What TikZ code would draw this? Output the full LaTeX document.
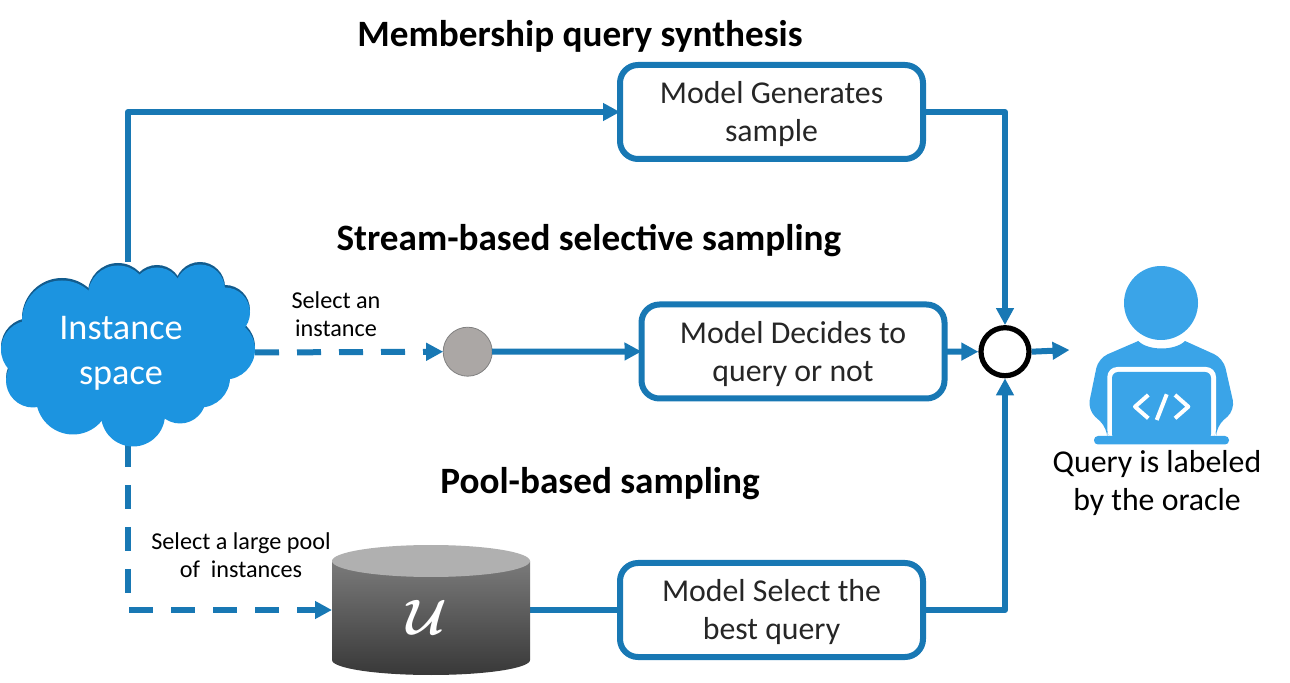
\documentclass[tikz,border=0pt]{standalone}
\usepackage{amsmath}
\usepackage{fontspec}
\setmainfont{Carlito}
\usepackage{tikz}
\usetikzlibrary{arrows.meta}
\definecolor{linkblue}{HTML}{1878B4}
\definecolor{cloudblue}{HTML}{1C94E0}
\definecolor{clouddark}{HTML}{125C8E}
\definecolor{userblue}{HTML}{3AA4E8}
\definecolor{streamgray}{HTML}{ABA7A5}
\tikzset{
  modelbox/.style={draw=linkblue,line width=3pt,rounded corners=9pt,fill=white,
    minimum width=151.5pt,minimum height=47pt,align=center,outer sep=0pt,
    font=\fontsize{15.9}{19}\selectfont,text=black!85},
  heading/.style={font=\fontsize{18.6}{20}\selectfont\bfseries,text=black},
  smalltext/.style={font=\fontsize{12.1}{14}\selectfont,align=center,text=black},
  link/.style={draw=linkblue,line width=3pt,-{Triangle[length=8.5pt,width=8.5pt]}},
  plainlink/.style={draw=linkblue,line width=3pt},
  dashlink/.style={link,dash pattern=on 12pt off 9pt},
}
\begin{document}
\begin{tikzpicture}[x=0.5pt,y=-0.5pt,line join=round]
  \useasboundingbox (0,0) rectangle (1290,683);
  % placeholders the connectors attach to
  \node[minimum width=127pt,minimum height=90.5pt,outer sep=0pt] (cloud) at (128,352.5) {};
  \node[minimum width=99pt,minimum height=57pt,outer sep=0pt] (pool) at (431,610) {};
  \node[modelbox] (generate) at (771.5,112) {};
  \node[modelbox] (decide) at (793,351.5) {};
  \node[modelbox] (select) at (771.5,610) {};
  \node[modelbox,draw=none,fill=none] (generatetext) at (771.5,114.5) {Model Generates\\sample};
  \node[modelbox,draw=none,fill=none] (decidetext) at (793,354) {Model Decides to\\query or not};
  \node[modelbox,draw=none,fill=none] (selecttext) at (771.5,612.5) {Model Select the\\best query};
  \node[circle,draw=gray,line width=0.4pt,fill=streamgray,minimum size=24.5pt,
    inner sep=0pt,outer sep=0pt] (stream) at (467.7,351.7) {};
  \node[circle,draw=black,line width=2.6pt,fill=white,minimum size=24pt,inner sep=0pt,outer sep=1.3pt]
    (junction) at (1005,351.7) {};
  \coordinate (oracle) at (1069.5,350);
  % connectors
  \draw[link] (cloud.north) -- (cloud.north |- generate.west) -- (generate.west);
  \draw[link] (generate.east) -| (junction.north);
  \draw[dashlink] (cloud.east) -- (stream.west);
  \draw[link] (stream.east) -- (decide.west);
  \draw[link] (decide.east) -- (junction.west);
  \draw[dashlink] (cloud.south) -- (cloud.south |- pool.west) -- (pool.west);
  \draw[plainlink] (pool.east) -- (select.west);
  \draw[link] (select.east) -| (junction.south);
  \draw[link] (junction.east) -- (oracle);
  % cloud, a dark copy under the light one gives the rim
  \foreach \col/\dy in {clouddark/0,cloudblue/-2.5} {
    \begin{scope}[yshift=\dy*0.5pt]
      \foreach \cx/\cy/\r in {62/318/40,118/293/30,157/290/25,200/287/25,225/310/25,
          225/347/30,200/375/30,180/395/26,133/412/32,73/395/37,33/378/27,30/347/29,
          125/350/70,80/350/55,175/350/50}
        \fill[\col] (\cx,\cy) circle[radius=\r];
    \end{scope}
  }
  \node[align=center,text=white,font=\fontsize{18.1}{22.5}\selectfont] (cloudtext) at (121,353)
    {Instance\\space};
  % pool
  \shade[top color=black!52!white,bottom color=black!78!white] (332,561) -- (332,660)
    arc[start angle=180,end angle=0,x radius=99,y radius=15] -- (530,561) -- cycle;
  \fill[black!31!white] (431,561) ellipse[x radius=99,y radius=16];
  \node[text=white,font=\fontsize{26}{26}\selectfont] (pooltext) at (427,617) {{\boldmath$\mathcal{U}$}};
  % oracle
  \fill[userblue] (1161,303) circle[radius=37];
  \fill[userblue,rounded corners=5pt] (1107.3,427.7) -- (1087.7,410) -- (1098.3,358.3)
    [sharp corners] -- (1138.3,341) .. controls (1148,351) and (1175,351) .. (1185,341)
    [rounded corners=5pt] -- (1223.3,358.3) -- (1235,410) -- (1216,426.7) -- (1216,440) -- (1107.3,440) -- cycle;
  \fill[white,rounded corners=5pt] (1107.3,440) -- (1107.3,367) -- (1216,367) -- (1216,440) -- cycle;
  \fill[userblue,rounded corners=3pt] (1112,440) -- (1112,372) -- (1211,372) -- (1211,440) -- cycle;
  \fill[userblue,rounded corners=2pt] (1094,436) -- (1229,436) -- (1229,444.5) -- (1094,444.5) -- cycle;
  \draw[white,line width=2pt] (1148.3,395) -- (1135,406.7) -- (1148.3,418.3)
    (1175,395) -- (1188.3,406.7) -- (1175,418.3) (1166.7,394.3) -- (1156.7,420);
  % texts
  \node[heading] (membership) at (580,36.5) {Membership query synthesis};
  \node[heading] (selective) at (589,240.5) {Stream-based selective sampling};
  \node[heading] (poolbased) at (600,483.5) {Pool-based sampling};
  \node[smalltext] (instancelabel) at (336,314.5) {Select an\\instance};
  \node[smalltext] (poollabel) at (241,555) {Select a large pool\\of~~instances};
  \node[align=center,text=black,font=\fontsize{15.9}{19}\selectfont] (oracletext) at (1157,483)
    {Query is labeled\\by the oracle};
\end{tikzpicture}
\end{document}
